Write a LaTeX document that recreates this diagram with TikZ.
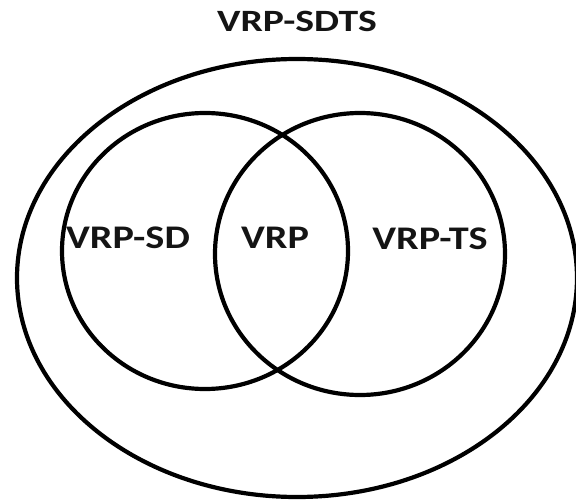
\documentclass[tikz,border=0pt]{standalone}
\usepackage{fontspec}
\setmainfont{Carlito}
\begin{document}
\begin{tikzpicture}[x=1pt,y=-1pt,
  setline/.style={line width=4.2pt, draw=black},
  setlabel/.style={font=\bfseries\fontsize{33}{33}\selectfont, inner sep=0pt,
    text=black!92, xscale=1.22}
]
\useasboundingbox (0,0) rectangle (576,500);
% outer set
\draw[setline] (297,278) ellipse [x radius=280, y radius=219];
% two inner sets
\draw[setline] (205,251) ellipse [x radius=143, y radius=138];
\draw[setline] (360,254) ellipse [x radius=145, y radius=141];
% labels
\node[setlabel, font=\bfseries\fontsize{31}{31}\selectfont, xscale=1.28/1.22] (outer) at (297,21.5) {VRP-SDTS};
\node[setlabel] (sd) at (128,237.5) {VRP-SD};
\node[setlabel] (both) at (275,237.5) {VRP};
\node[setlabel] (ts) at (430,239) {VRP-TS};
\end{tikzpicture}
\end{document}
